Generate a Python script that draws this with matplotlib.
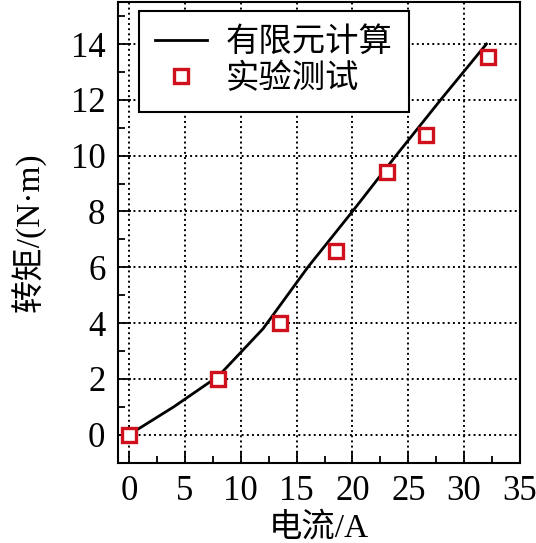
import matplotlib
matplotlib.use('Agg')
from matplotlib import pyplot as plt
from matplotlib.ticker import MultipleLocator

plt.rcParams['font.family'] = ['Liberation Serif', 'Noto Sans CJK SC']
plt.rcParams['mathtext.fontset'] = 'stix'

# 有限元计算曲线
fem_x = [0, 4, 8, 12, 16, 20, 24, 28, 32]
fem_y = [0, 1.0, 2.1, 3.8, 6.0, 8.0, 10.05, 12.05, 14.0]
# 实验测试点
test_x = [0, 8, 13.5, 18.5, 23.1, 26.6, 32.1]
test_y = [0, 2.0, 4.0, 6.6, 9.43, 10.73, 13.55]

fig = plt.figure(figsize=(5.36, 5.43), dpi=100)
ax = fig.add_axes([0.220, 0.148, 0.750, 0.848])

ax.plot(fem_x, fem_y, c='black', lw=2, label='有限元计算')
ax.plot(test_x, test_y, ls='none', marker='s', ms=10, mfc='white',
        mec='#d0101c', mew=2.4, label='实验测试')

ax.set_xlim(-1, 35)
ax.set_ylim(-1, 15.5)
ax.xaxis.set_major_locator(MultipleLocator(5))
ax.xaxis.set_minor_locator(MultipleLocator(2.5))
ax.yaxis.set_major_locator(MultipleLocator(2))
ax.yaxis.set_minor_locator(MultipleLocator(1))
ax.tick_params(which='both', direction='in', labelsize=25, width=1.3)
ax.tick_params(which='major', length=9, pad=9)
ax.tick_params(which='minor', length=5)
for s in ax.spines.values():
    s.set_linewidth(1.5)
ax.grid(True, which='major', ls=':', c='black', lw=1.4)

ax.set_xlabel('电流/A', fontsize=24, labelpad=3)
ax.set_ylabel('转矩/(N·m)', fontsize=24, labelpad=17)

leg = ax.legend(loc='upper left', bbox_to_anchor=(0.052, 0.981), borderaxespad=0,
                fontsize=24, fancybox=False, edgecolor='black', framealpha=1,
                handlelength=1.55, handletextpad=0.55, borderpad=0.5, labelspacing=0.15)
leg.get_frame().set_linewidth(1.5)

plt.savefig('out.png', dpi=100)
